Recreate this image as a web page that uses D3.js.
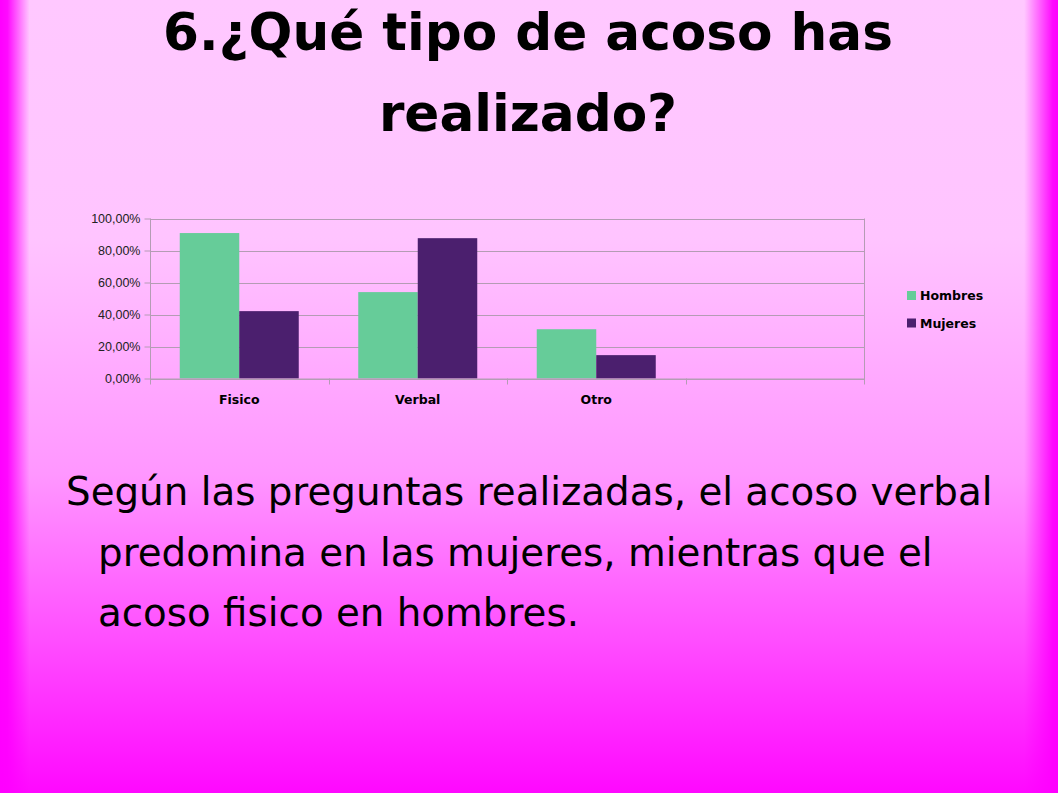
<!DOCTYPE html>
<html>
<head>
<meta charset="utf-8">
<script src="https://cdn.jsdelivr.net/npm/d3@7"></script>
<style>
  html, body { margin: 0; padding: 0; overflow: hidden; }
  svg { display: block; }
</style>
</head>
<body>
<svg id="slide" width="1058" height="793"></svg>
<script>
// data
var categories = ["Fisico", "Verbal", "Otro", ""];
var series = ["Hombres", "Mujeres"];
var hombres = [0.909, 0.54, 0.308];
var mujeres = [0.421, 0.877, 0.146];
var yTicks = [0, 0.2, 0.4, 0.6, 0.8, 1];
var titleLines = ["6.¿Qué tipo de acoso has", "realizado?"];
var bodyLines = [
  "Según las preguntas realizadas, el acoso verbal",
  "predomina en las mujeres, mientras que el",
  "acoso fisico en hombres."
];

var colors = { Hombres: "#66cc99", Mujeres: "#4b1f6e" };
var comic = "'Comic Sans MS', 'DejaVu Sans', sans-serif";
var gridColor = "#b49cb4";

var svg = d3.select("#slide");
var W = 1058, H = 793;

/////////////
// background
/////////////
var defs = svg.append("defs");
var vg = defs.append("linearGradient").attr("id", "vg")
  .attr("x1", 0).attr("y1", 0).attr("x2", 0).attr("y2", 1);
vg.append("stop").attr("offset", "0").attr("stop-color", "#ffc8ff");
vg.append("stop").attr("offset", "0.3").attr("stop-color", "#ffc4ff");
vg.append("stop").attr("offset", "0.6").attr("stop-color", "#ff96ff");
vg.append("stop").attr("offset", "0.8").attr("stop-color", "#ff50ff");
vg.append("stop").attr("offset", "1").attr("stop-color", "#ff08ff");

var hg = defs.append("linearGradient").attr("id", "hg")
  .attr("x1", 0).attr("y1", 0).attr("x2", 1).attr("y2", 0);
hg.append("stop").attr("offset", "0").attr("stop-color", "#ff00ff").attr("stop-opacity", 1);
hg.append("stop").attr("offset", "0.007").attr("stop-color", "#ff00ff").attr("stop-opacity", 0.95);
hg.append("stop").attr("offset", "0.028").attr("stop-color", "#ff00ff").attr("stop-opacity", 0);
hg.append("stop").attr("offset", "0.968").attr("stop-color", "#ff00ff").attr("stop-opacity", 0);
hg.append("stop").attr("offset", "0.995").attr("stop-color", "#ff00ff").attr("stop-opacity", 0.95);
hg.append("stop").attr("offset", "1").attr("stop-color", "#ff00ff").attr("stop-opacity", 1);

svg.append("rect").attr("width", W).attr("height", H).attr("fill", "url(#vg)");
svg.append("rect").attr("width", W).attr("height", H).attr("fill", "url(#hg)");

// fit a line of text to a target width
function fitText(sel, target) {
  var w = sel.node().getComputedTextLength();
  var fs = parseFloat(sel.attr("font-size"));
  sel.attr("font-size", fs * target / w);
  return fs * target / w;
}

/////////////
// title
/////////////
var titleSize = 0;
titleLines.forEach(function(t, i) {
  var tx = svg.append("text")
    .attr("x", 528).attr("y", i == 0 ? 50 : 131)
    .attr("text-anchor", "middle")
    .attr("font-family", comic)
    .attr("font-weight", "bold")
    .attr("font-size", 56)
    .attr("fill", "#000")
    .text(t);
  if (i == 0) titleSize = fitText(tx, 730);
  else tx.attr("font-size", titleSize);
});

/////////////
// chart
/////////////
var plotLeft = 150, plotRight = 864, plotTop = 218.5, plotBottom = 378.5;

var x = d3.scaleBand().domain(categories).range([plotLeft, plotRight]).padding(0);
var xs = d3.scaleBand().domain(series).range([0, x.bandwidth()]).paddingInner(0).paddingOuter(0.5);
var y = d3.scaleLinear().domain([0, 1]).range([plotBottom, plotTop]);

var chart = svg.append("g");

// gridlines
chart.append("g").selectAll("line").data(yTicks).enter().append("line")
  .attr("x1", plotLeft).attr("x2", plotRight)
  .attr("y1", function(d) { return Math.round(y(d)) + 0.5; })
  .attr("y2", function(d) { return Math.round(y(d)) + 0.5; })
  .attr("stroke", gridColor).attr("stroke-width", 1);

// right border
chart.append("line")
  .attr("x1", plotRight + 0.5).attr("x2", plotRight + 0.5)
  .attr("y1", plotTop).attr("y2", plotBottom + 6)
  .attr("stroke", gridColor);

// bars
var rows = categories.filter(function(c) { return c != ""; }).map(function(c, i) {
  return { cat: c, values: [
    { key: "Hombres", v: hombres[i] },
    { key: "Mujeres", v: mujeres[i] }
  ] };
});

var groups = chart.selectAll("g.cat").data(rows).enter().append("g")
  .attr("class", "cat")
  .attr("transform", function(d) { return "translate(" + x(d.cat) + ",0)"; });

groups.selectAll("rect").data(function(d) { return d.values; }).enter().append("rect")
  .attr("x", function(d) { return xs(d.key); })
  .attr("width", xs.bandwidth())
  .attr("y", function(d) { return y(d.v); })
  .attr("height", function(d) { return y(0) - y(d.v); })
  .attr("fill", function(d) { return colors[d.key]; });

// y axis
var yAxis = d3.axisLeft(y)
  .tickValues(yTicks)
  .tickSize(6)
  .tickPadding(4)
  .tickFormat(function(d) { return d3.format(".2f")(d * 100).replace(".", ",") + "%"; });

var gy = chart.append("g").attr("transform", "translate(" + (plotLeft + 0.5) + ",0)").call(yAxis);
gy.select(".domain").attr("stroke", gridColor).attr("d", "M0," + plotTop + "V" + (plotBottom + 6));
gy.selectAll(".tick line").attr("stroke", gridColor);
gy.selectAll(".tick text")
  .attr("font-family", "'Liberation Sans', Arial, sans-serif")
  .attr("font-size", 12.5)
  .attr("fill", "#222");

// x axis: labels in band centres, ticks at band boundaries
var xAxis = d3.axisBottom(x).tickSize(0).tickPadding(16);
var gx = chart.append("g").attr("transform", "translate(0," + (plotBottom + 0.5) + ")").call(xAxis);
gx.select(".domain").attr("stroke", gridColor).attr("d", "M" + plotLeft + ",0H" + plotRight);
gx.selectAll(".tick text")
  .attr("font-family", comic)
  .attr("font-weight", "bold")
  .attr("font-size", 12.5)
  .attr("fill", "#000");

chart.append("g").selectAll("line").data(categories.slice(1)).enter().append("line")
  .attr("x1", function(d) { return Math.round(x(d)) + 0.5; })
  .attr("x2", function(d) { return Math.round(x(d)) + 0.5; })
  .attr("y1", plotBottom).attr("y2", plotBottom + 6)
  .attr("stroke", gridColor);

// legend
var legend = svg.append("g").attr("transform", "translate(907,291)");
var li = legend.selectAll("g").data(series).enter().append("g")
  .attr("transform", function(d, i) { return "translate(0," + (i * 27.5) + ")"; });
li.append("rect").attr("width", 9).attr("height", 9)
  .attr("fill", function(d) { return colors[d]; });
li.append("text").attr("x", 13).attr("y", 9)
  .attr("font-family", comic)
  .attr("font-weight", "bold")
  .attr("font-size", 12.5)
  .attr("fill", "#000")
  .text(function(d) { return d; });

/////////////
// body text
/////////////
var bodyX = [66, 98, 98];
var bodyY = [505, 566, 626];
var bodySize = 0;
bodyLines.forEach(function(t, i) {
  var tx = svg.append("text")
    .attr("x", bodyX[i]).attr("y", bodyY[i])
    .attr("font-family", comic)
    .attr("font-size", 38)
    .attr("fill", "#000")
    .text(t);
  if (i == 0) bodySize = fitText(tx, 927);
  else tx.attr("font-size", bodySize);
});
</script>
</body>
</html>
